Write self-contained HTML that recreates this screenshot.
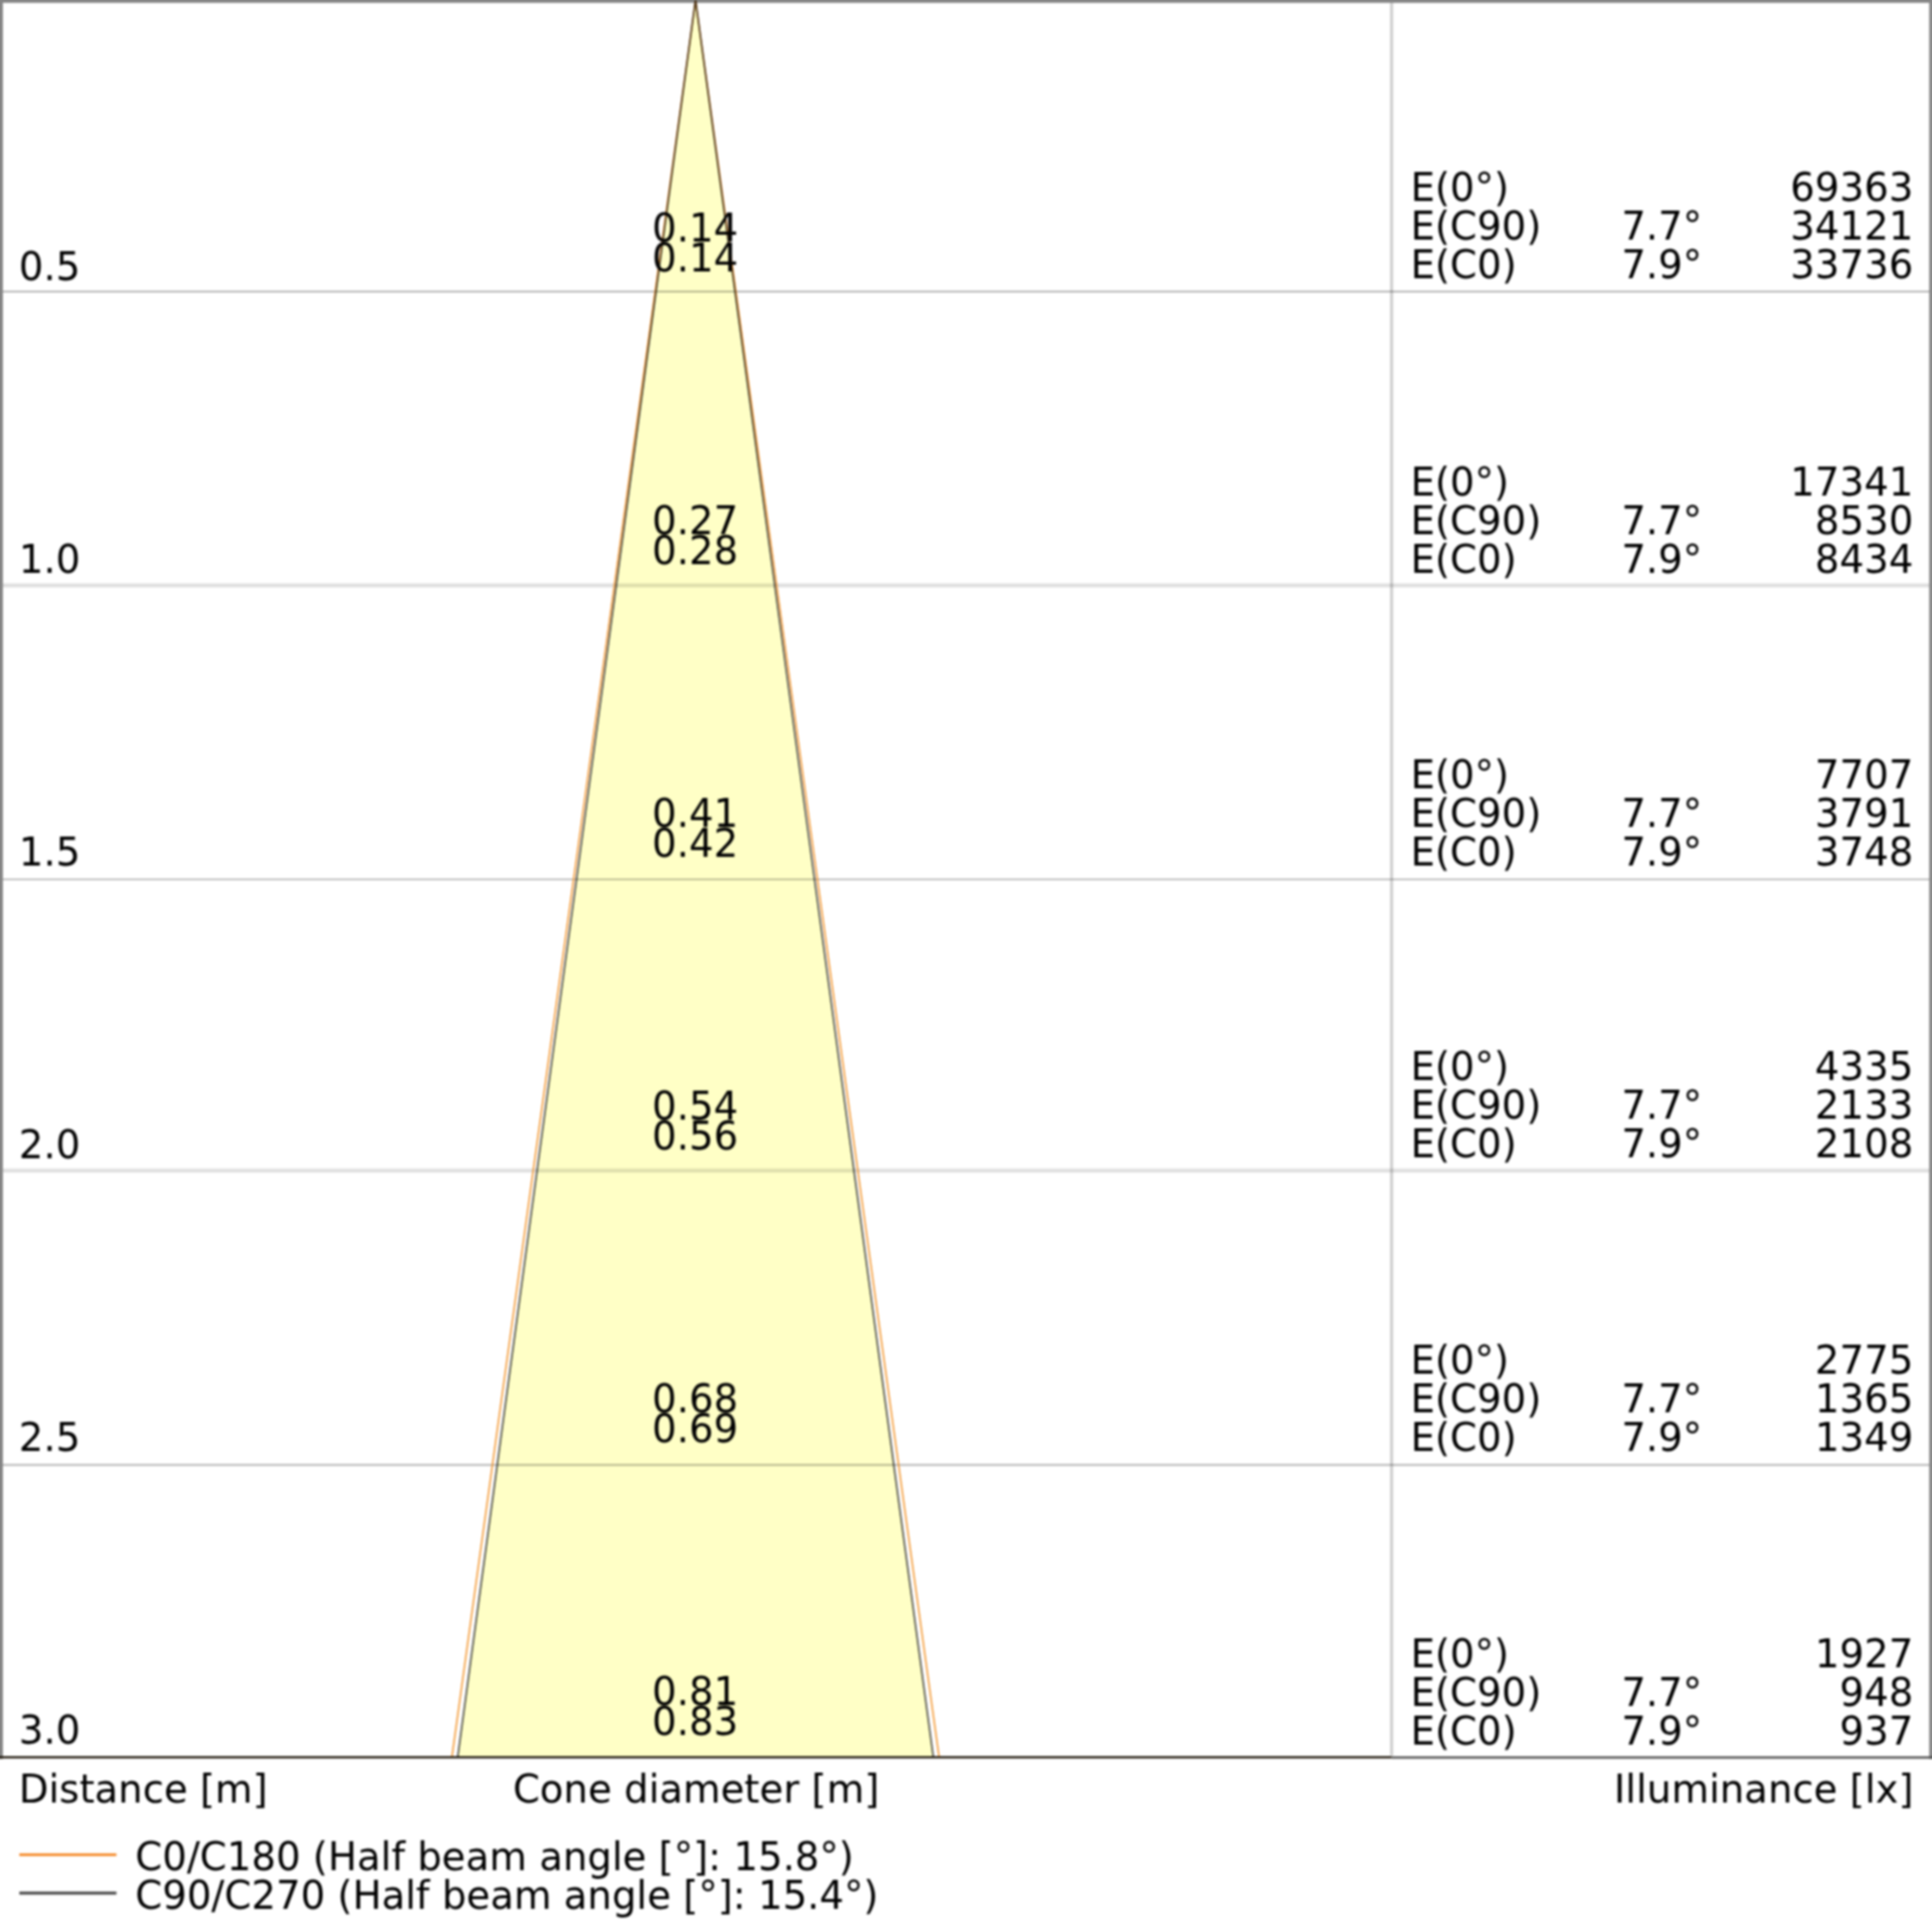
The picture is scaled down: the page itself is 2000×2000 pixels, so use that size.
<!DOCTYPE html>
<html lang="en"><head><meta charset="utf-8"><title>Cone diagram</title>
<style>html,body{margin:0;padding:0;background:#fff;overflow:hidden}svg{display:block}text{font-family:"DejaVu Sans","Liberation Sans",sans-serif;font-size:40px;fill:#000}.m{text-anchor:middle}.e{text-anchor:end}</style></head><body>
<svg width="2000" height="2000" viewBox="0 0 2000 2000">
<defs><filter id="soft" filterUnits="userSpaceOnUse" x="-20" y="-20" width="2040" height="2040" color-interpolation-filters="sRGB"><feGaussianBlur stdDeviation="0.8"/></filter></defs>
<g filter="url(#soft)">
<rect x="-20" y="-20" width="2040" height="2040" fill="#fff"/>
<polygon points="720.0,0 473.8,1819.1 966.2,1819.1" fill="#ffffc6"/>
<line x1="-20" y1="301.7" x2="2020" y2="301.7" stroke="#000" stroke-opacity="0.370" stroke-width="1.4"/>
<line x1="-20" y1="606.0" x2="2020" y2="606.0" stroke="#000" stroke-opacity="0.126" stroke-width="4.0"/>
<line x1="-20" y1="910.4" x2="2020" y2="910.4" stroke="#000" stroke-opacity="0.370" stroke-width="1.4"/>
<line x1="-20" y1="1211.7" x2="2020" y2="1211.7" stroke="#000" stroke-opacity="0.126" stroke-width="4.0"/>
<line x1="-20" y1="1516.5" x2="2020" y2="1516.5" stroke="#000" stroke-opacity="0.370" stroke-width="1.4"/>
<line x1="1440.6" y1="0" x2="1440.6" y2="1817.6" stroke="#000" stroke-opacity="0.19" stroke-width="3.2"/>
<rect x="-20" y="-20" width="23" height="1840.9" fill="#848484"/>
<rect x="-20" y="-20" width="2040" height="22.9" fill="#848484"/>
<rect x="1997.1" y="-20" width="23.8" height="1840.9" fill="#888"/>
<line x1="1440.6" y1="1819.4" x2="2020" y2="1819.4" stroke="#484848" stroke-width="2.3"/>
<polyline points="467.8,1819.1 720.0,0 972.2,1819.1" fill="none" stroke="#f28c1a" stroke-opacity="1" stroke-width="1.4"/>
<polyline points="473.8,1819.1 720.0,0 966.2,1819.1" fill="none" stroke="#464646" stroke-opacity="1" stroke-width="1.6" style="mix-blend-mode:multiply"/>
<line x1="-20" y1="1819.1" x2="1440.6" y2="1819.1" stroke="#1c1408" stroke-width="2.3"/>
<text x="19.6" y="289.8">0.5</text>
<text class="m y" x="719.6" y="249.6">0.14</text>
<text class="m y" x="719.6" y="280.8">0.14</text>
<text x="1460.2" y="207.6">E(0°)</text>
<text x="1460.2" y="247.6">E(C90)</text>
<text x="1460.2" y="287.6">E(C0)</text>
<text class="e" x="1762" y="247.6">7.7°</text>
<text class="e" x="1762" y="287.6">7.9°</text>
<text class="e" x="1980.6" y="207.6">69363</text>
<text class="e" x="1980.6" y="247.6">34121</text>
<text class="e" x="1980.6" y="287.6">33736</text>
<text x="19.6" y="592.8">1.0</text>
<text class="m y" x="719.6" y="552.6">0.27</text>
<text class="m y" x="719.6" y="583.8">0.28</text>
<text x="1460.2" y="512.8">E(0°)</text>
<text x="1460.2" y="552.8">E(C90)</text>
<text x="1460.2" y="592.8">E(C0)</text>
<text class="e" x="1762" y="552.8">7.7°</text>
<text class="e" x="1762" y="592.8">7.9°</text>
<text class="e" x="1980.6" y="512.8">17341</text>
<text class="e" x="1980.6" y="552.8">8530</text>
<text class="e" x="1980.6" y="592.8">8434</text>
<text x="19.6" y="895.9">1.5</text>
<text class="m y" x="719.6" y="855.7">0.41</text>
<text class="m y" x="719.6" y="886.9">0.42</text>
<text x="1460.2" y="815.8">E(0°)</text>
<text x="1460.2" y="855.8">E(C90)</text>
<text x="1460.2" y="895.8">E(C0)</text>
<text class="e" x="1762" y="855.8">7.7°</text>
<text class="e" x="1762" y="895.8">7.9°</text>
<text class="e" x="1980.6" y="815.8">7707</text>
<text class="e" x="1980.6" y="855.8">3791</text>
<text class="e" x="1980.6" y="895.8">3748</text>
<text x="19.6" y="1198.9">2.0</text>
<text class="m y" x="719.6" y="1158.7">0.54</text>
<text class="m y" x="719.6" y="1189.9">0.56</text>
<text x="1460.2" y="1118.2">E(0°)</text>
<text x="1460.2" y="1158.2">E(C90)</text>
<text x="1460.2" y="1198.2">E(C0)</text>
<text class="e" x="1762" y="1158.2">7.7°</text>
<text class="e" x="1762" y="1198.2">7.9°</text>
<text class="e" x="1980.6" y="1118.2">4335</text>
<text class="e" x="1980.6" y="1158.2">2133</text>
<text class="e" x="1980.6" y="1198.2">2108</text>
<text x="19.6" y="1502.0">2.5</text>
<text class="m y" x="719.6" y="1461.8">0.68</text>
<text class="m y" x="719.6" y="1493.0">0.69</text>
<text x="1460.2" y="1422.2">E(0°)</text>
<text x="1460.2" y="1462.2">E(C90)</text>
<text x="1460.2" y="1502.2">E(C0)</text>
<text class="e" x="1762" y="1462.2">7.7°</text>
<text class="e" x="1762" y="1502.2">7.9°</text>
<text class="e" x="1980.6" y="1422.2">2775</text>
<text class="e" x="1980.6" y="1462.2">1365</text>
<text class="e" x="1980.6" y="1502.2">1349</text>
<text x="19.6" y="1805.0">3.0</text>
<text class="m y" x="719.6" y="1764.8">0.81</text>
<text class="m y" x="719.6" y="1796.0">0.83</text>
<text x="1460.2" y="1725.8">E(0°)</text>
<text x="1460.2" y="1765.8">E(C90)</text>
<text x="1460.2" y="1805.8">E(C0)</text>
<text class="e" x="1762" y="1765.8">7.7°</text>
<text class="e" x="1762" y="1805.8">7.9°</text>
<text class="e" x="1980.6" y="1725.8">1927</text>
<text class="e" x="1980.6" y="1765.8">948</text>
<text class="e" x="1980.6" y="1805.8">937</text>
<text x="19.4" y="1865.5">Distance [m]</text>
<text class="m" x="720.6" y="1865.5">Cone diameter [m]</text>
<text class="e" x="1980.8" y="1865.5">Illuminance [lx]</text>
<line x1="20" y1="1920" x2="120.5" y2="1920" stroke="#f47c10" stroke-width="2.5"/>
<line x1="20" y1="1959.8" x2="120.5" y2="1959.8" stroke="#464646" stroke-width="3.0"/>
<text x="140" y="1935.6">C0/C180 (Half beam angle [°]: 15.8°)</text>
<text x="140" y="1975.6">C90/C270 (Half beam angle [°]: 15.4°)</text>
</g></svg></body></html>
